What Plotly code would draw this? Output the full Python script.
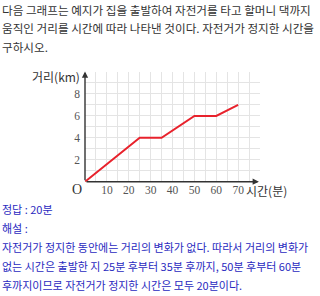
import plotly.graph_objects as go

# data
time_min = [0, 25, 35, 50, 60, 70]
dist_km = [0, 4, 4, 6, 6, 7]
x_labels = [10, 20, 30, 40, 50, 60, 70]
y_labels = [2, 4, 6, 8]

question = [
    "다음 그래프는 예지가 집을 출발하여 자전거를 타고 할머니 댁까지",
    "움직인 거리를 시간에 따라 나타낸 것이다. 자전거가 정지한 시간을",
    "구하시오.",
]
answer = [
    "정답 : 20분",
    "해설 :",
    "자전거가 정지한 동안에는 거리의 변화가 없다. 따라서 거리의 변화가",
    "없는 시간은 출발한 지 25분 후부터 35분 후까지, 50분 후부터 60분",
    "후까지이므로 자전거가 정지한 시간은 모두 20분이다.",
]

W, H = 320, 296
KR = "Noto Sans CJK KR"
SERIF = "Liberation Serif"

fig = go.Figure()
fig.add_trace(go.Scatter(x=time_min, y=dist_km, mode="lines",
                         line=dict(color="#e8222c", width=2), hoverinfo="skip"))

xv = list(range(0, 81, 5))
yv = list(range(0, 11, 1))
fig.update_layout(
    width=W, height=H, margin=dict(l=0, r=0, t=0, b=0),
    paper_bgcolor="white", plot_bgcolor="white", showlegend=False,
    xaxis=dict(domain=[85 / W, 260 / W], range=[0, 80], tickmode="array",
               tickvals=xv, ticktext=[str(v) if v in x_labels else "" for v in xv],
               showgrid=True, gridcolor="#e4e4e4", gridwidth=1, zeroline=False,
               showline=False, ticks="", tickfont=dict(family=SERIF, size=11.5, color="#555"),
               fixedrange=True),
    yaxis=dict(domain=[1 - 181.7 / H, 1 - 72 / H], range=[0, 10], tickmode="array",
               tickvals=yv, ticktext=[str(v) if v in y_labels else "" for v in yv],
               showgrid=True, gridcolor="#e4e4e4", gridwidth=1, zeroline=False,
               showline=False, ticks="", ticklabelstandoff=4,
               tickfont=dict(family=SERIF, size=11.5, color="#555"),
               fixedrange=True),
)

# axes with arrows
fig.add_annotation(x=79.5, y=0, ax=0, ay=0, xref="x", yref="y", axref="x", ayref="y",
                   showarrow=True, arrowhead=2, arrowsize=0.9, arrowwidth=1.4,
                   arrowcolor="#333", text="")
fig.add_annotation(x=0, y=10.05, ax=0, ay=0, xref="x", yref="y", axref="x", ayref="y",
                   showarrow=True, arrowhead=2, arrowsize=0.9, arrowwidth=1.4,
                   arrowcolor="#333", text="")

def px_ann(text, x, y, size, color, family=KR, xanchor="left"):
    fig.add_annotation(x=x / W, y=1 - y / H, xref="paper", yref="paper", text=text,
                       showarrow=False, xanchor=xanchor, yanchor="middle",
                       font=dict(family=family, size=size, color=color))

px_ann("O", 77, 189, 14, "#333", family=SERIF, xanchor="center")
px_ann("시간(분)", 244, 190, 12, "#333")
px_ann("거리(km)", 82, 76, 12, "#333", xanchor="right")

for i, t in enumerate(question):
    px_ann(t, 0, 10 + 18.5 * i, 11.6, "#333")
for i, t in enumerate(answer):
    px_ann(t, 0, 209 + 19 * i, 11, "#2a2ac0")

fig.write_html("out.html")
